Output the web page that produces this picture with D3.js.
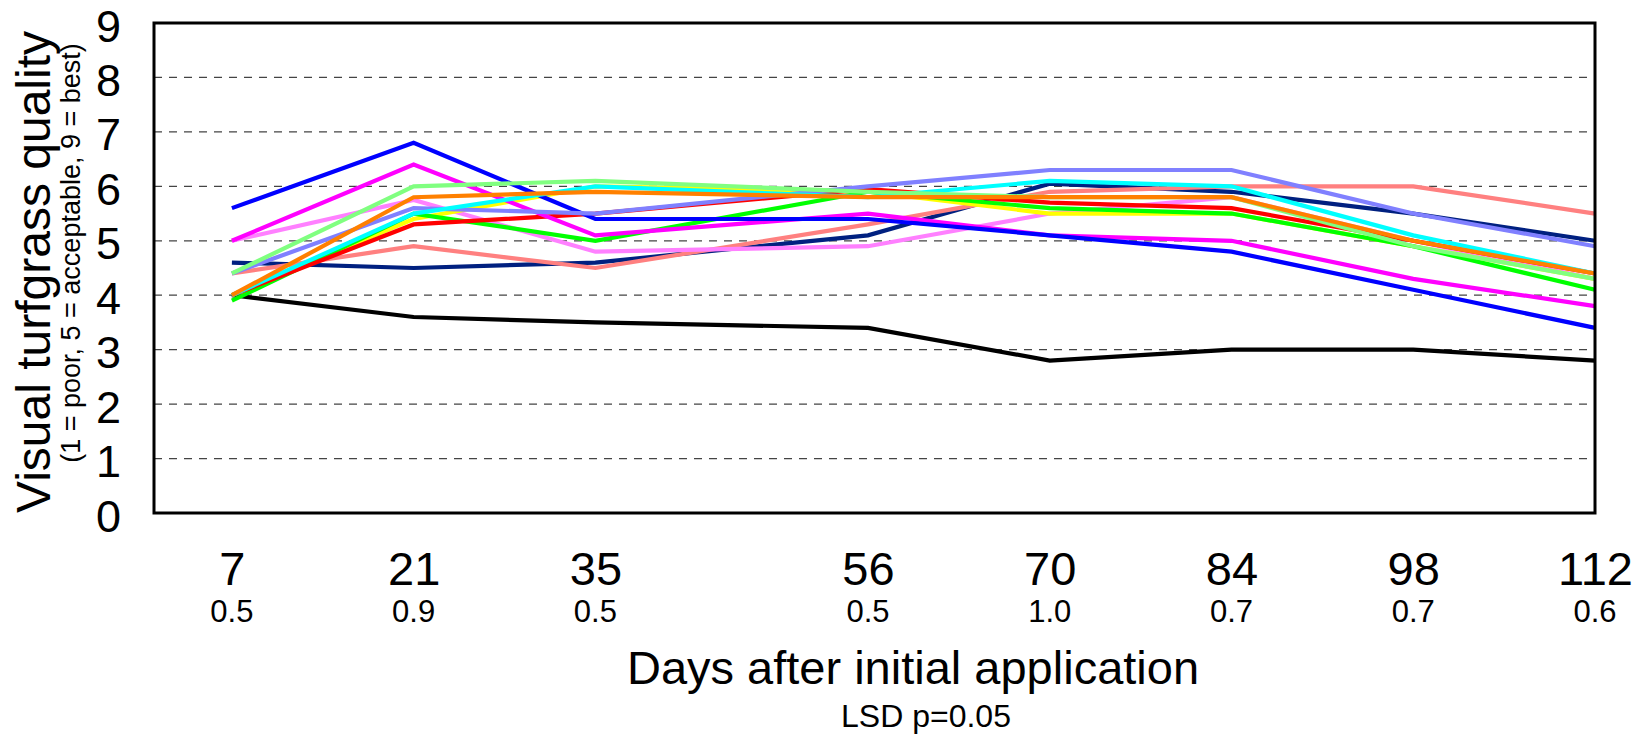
<!DOCTYPE html>
<html>
<head>
<meta charset="utf-8">
<script src="https://cdn.jsdelivr.net/npm/d3@7"></script>
<style>
	html, body { margin: 0; padding: 0; background: #fff; }
	svg { display: block; font-family: 'Liberation Sans', Arial, Helvetica, sans-serif; }
</style>
</head>
<body>
<div id="chart"></div>
<script>
// x categories (days after initial application) and LSD row under them
const days = [7, 21, 35, 56, 70, 84, 98, 112];
const lsd = ['0.5', '0.9', '0.5', '0.5', '1.0', '0.7', '0.7', '0.6'];
const yTicks = [0, 1, 2, 3, 4, 5, 6, 7, 8, 9];

// turfgrass quality per treatment, one value per day above
const black = [4.0, 3.6, 3.5, 3.4, 2.8, 3.0, 3.0, 2.8];
const navy = [4.6, 4.5, 4.6, 5.1, 6.05, 5.9, 5.5, 5.0];
const salmon = [4.4, 4.9, 4.5, 5.3, 5.9, 6.0, 6.0, 5.5];
const lightPink = [5.0, 5.75, 4.8, 4.9, 5.5, 5.8, 5.0, 4.3];
const yellow = [4.0, 5.4, 6.0, 5.9, 5.5, 5.5, 4.9, 4.3];
const green = [3.9, 5.5, 5.0, 5.9, 5.6, 5.5, 4.9, 4.1];
const red = [4.0, 5.3, 5.5, 5.95, 5.7, 5.6, 5.0, 4.4];
const magenta = [5.0, 6.4, 5.1, 5.5, 5.1, 5.0, 4.3, 3.8];
const blue = [5.6, 6.8, 5.4, 5.4, 5.1, 4.8, 4.1, 3.4];
const periwinkle = [4.4, 5.6, 5.5, 6.0, 6.3, 6.3, 5.5, 4.9];
const cyan = [4.0, 5.5, 6.0, 5.8, 6.1, 6.0, 5.1, 4.4];
const lightGreen = [4.4, 6.0, 6.1, 5.9, 5.8, 5.8, 4.9, 4.3];
const orange = [4.0, 5.8, 5.9, 5.8, 5.8, 5.8, 5.0, 4.4];

// drawing order, bottom first
const series = [
	{ color: '#000000', values: black },
	{ color: '#002080', values: navy },
	{ color: '#ff8080', values: salmon },
	{ color: '#ff80ff', values: lightPink },
	{ color: '#ffff00', values: yellow },
	{ color: '#00ff00', values: green },
	{ color: '#ff0000', values: red },
	{ color: '#ff00ff', values: magenta },
	{ color: '#0000ff', values: blue },
	{ color: '#8080ff', values: periwinkle },
	{ color: '#00ffff', values: cyan },
	{ color: '#80ff80', values: lightGreen },
	{ color: '#ff8000', values: orange }
];

const WIDTH = 1648;
const HEIGHT = 735;
const plot = { left: 154, right: 1595, top: 23, bottom: 513 };

const x = d3.scaleLinear().domain([1, 112]).range([plot.left, plot.right]);
const y = d3.scaleLinear().domain([0, 9]).range([plot.bottom, plot.top]);

const $svg = d3
	.select('#chart')
	.append('svg')
	.attr('width', WIDTH)
	.attr('height', HEIGHT);

// dashed grid
$svg
	.append('g')
	.attr('class', 'g-grid')
	.selectAll('line')
	.data(yTicks.filter(d => d > 0 && d < 9))
	.join('line')
	.attr('x1', plot.left)
	.attr('x2', plot.right)
	.attr('y1', d => y(d))
	.attr('y2', d => y(d))
	.attr('stroke', '#444')
	.attr('stroke-width', 1.2)
	.attr('stroke-dasharray', '8,7');

// lines
const line = d3
	.line()
	.x((d, i) => x(days[i]))
	.y(d => y(d));

$svg
	.append('g')
	.attr('class', 'g-lines')
	.selectAll('path')
	.data(series)
	.join('path')
	.attr('d', d => line(d.values))
	.attr('fill', 'none')
	.attr('stroke', d => d.color)
	.attr('stroke-width', 4.2);

// frame
$svg
	.append('rect')
	.attr('x', plot.left)
	.attr('y', plot.top)
	.attr('width', plot.right - plot.left)
	.attr('height', plot.bottom - plot.top)
	.attr('fill', 'none')
	.attr('stroke', '#000')
	.attr('stroke-width', 3);

// y axis labels
const yAxis = d3.axisLeft(y).tickValues(yTicks).tickSize(0).tickPadding(0);
const $yAxis = $svg
	.append('g')
	.attr('transform', `translate(${plot.left - 33},0)`)
	.call(yAxis);
$yAxis.select('.domain').remove();
$yAxis
	.selectAll('text')
	.attr('fill', '#000')
	.style('font-size', '45px')
	.attr('dy', '0.4em');

// x axis labels
const xAxis = d3.axisBottom(x).tickValues(days).tickSize(0).tickPadding(0);
const $xAxis = $svg
	.append('g')
	.attr('transform', `translate(0,${plot.bottom})`)
	.call(xAxis);
$xAxis.select('.domain').remove();
$xAxis
	.selectAll('text')
	.attr('fill', '#000')
	.style('font-size', '47px')
	.attr('dy', 0)
	.attr('y', 72);

// LSD row
$svg
	.append('g')
	.selectAll('text')
	.data(lsd)
	.join('text')
	.attr('x', (d, i) => x(days[i]))
	.attr('y', 622)
	.attr('text-anchor', 'middle')
	.style('font-size', '31px')
	.text(d => d);

// titles
$svg
	.append('text')
	.attr('x', 913)
	.attr('y', 684)
	.attr('text-anchor', 'middle')
	.style('font-size', '47px')
	.text('Days after initial application');

$svg
	.append('text')
	.attr('x', 926)
	.attr('y', 727)
	.attr('text-anchor', 'middle')
	.style('font-size', '32px')
	.text('LSD p=0.05');

$svg
	.append('text')
	.attr('transform', 'translate(50,272) rotate(-90)')
	.attr('text-anchor', 'middle')
	.style('font-size', '48px')
	.text('Visual turfgrass quality');

$svg
	.append('text')
	.attr('transform', 'translate(80,253) rotate(-90)')
	.attr('text-anchor', 'middle')
	.style('font-size', '27px')
	.text('(1 = poor, 5 = acceptable, 9 = best)');
</script>
</body>
</html>
